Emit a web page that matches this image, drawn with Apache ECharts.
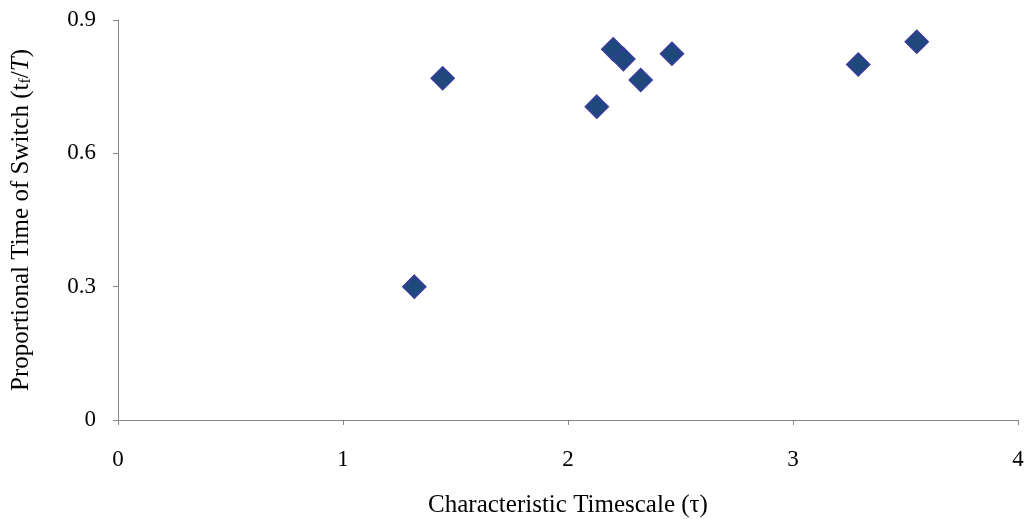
<!DOCTYPE html>
<html>
<head>
<meta charset="utf-8">
<script src="https://cdn.jsdelivr.net/npm/echarts@6/dist/echarts.min.js"></script>
<style>html,body{margin:0;padding:0;background:#fff;}#c{width:1031px;height:519px;}</style>
</head>
<body>
<div id="c"></div>
<script>
const xValues = [1.317, 1.443, 2.128, 2.201, 2.246, 2.323, 2.462, 3.290, 3.550];
const yValues = [0.300, 0.769, 0.705, 0.834, 0.812, 0.765, 0.824, 0.800, 0.851];
const xTicks = [0, 1, 2, 3, 4];
const yTicks = [0, 0.3, 0.6, 0.9];

const points = xValues.map((x, i) => [x, yValues[i]]);
const font = 'Liberation Serif';
const chart = echarts.init(document.getElementById('c'));
chart.setOption({
  animation: false,
  backgroundColor: '#fff',
  grid: { left: 118, right: 13, top: 20, bottom: 99, containLabel: false, outerBoundsMode: 'none' },
  xAxis: {
    type: 'value', min: xTicks[0], max: xTicks[xTicks.length - 1], interval: 1,
    name: 'Characteristic Timescale (τ)', nameLocation: 'middle', nameGap: 73,
    nameTextStyle: { fontFamily: font, fontSize: 25, color: '#000' },
    axisLine: { show: true, lineStyle: { color: '#868686', width: 1 } },
    axisTick: { show: true, length: 5, lineStyle: { color: '#868686' } },
    axisLabel: { fontFamily: font, fontSize: 23, color: '#000', margin: 28 },
    splitLine: { show: false }
  },
  yAxis: {
    type: 'value', min: yTicks[0], max: yTicks[yTicks.length - 1], interval: 0.3,
    name: '{n|Proportional Time of Switch (t}{s|f}{n|/}{i|T}{n|)}',
    nameLocation: 'middle', nameGap: 84, nameRotate: 90,
    nameTextStyle: {
      fontFamily: font, fontSize: 25, color: '#000',
      rich: {
        n: { fontFamily: font, fontSize: 25, color: '#000' },
        s: { fontFamily: font, fontSize: 16, color: '#000', verticalAlign: 'bottom', padding: [9, 0, 0, 0] },
        i: { fontFamily: font, fontSize: 25, color: '#000', fontStyle: 'italic' }
      }
    },
    axisLine: { show: true, lineStyle: { color: '#868686', width: 1 } },
    axisTick: { show: true, length: 5, lineStyle: { color: '#868686' } },
    axisLabel: { fontFamily: font, fontSize: 23, color: '#000', margin: 22 },
    splitLine: { show: false }
  },
  series: [{
    type: 'scatter',
    data: points,
    symbol: 'diamond',
    symbolSize: 23,
    itemStyle: { color: '#1F497D', borderColor: '#3A3A9E', borderWidth: 1.5, opacity: 1 }
  }]
});
</script>
</body>
</html>
